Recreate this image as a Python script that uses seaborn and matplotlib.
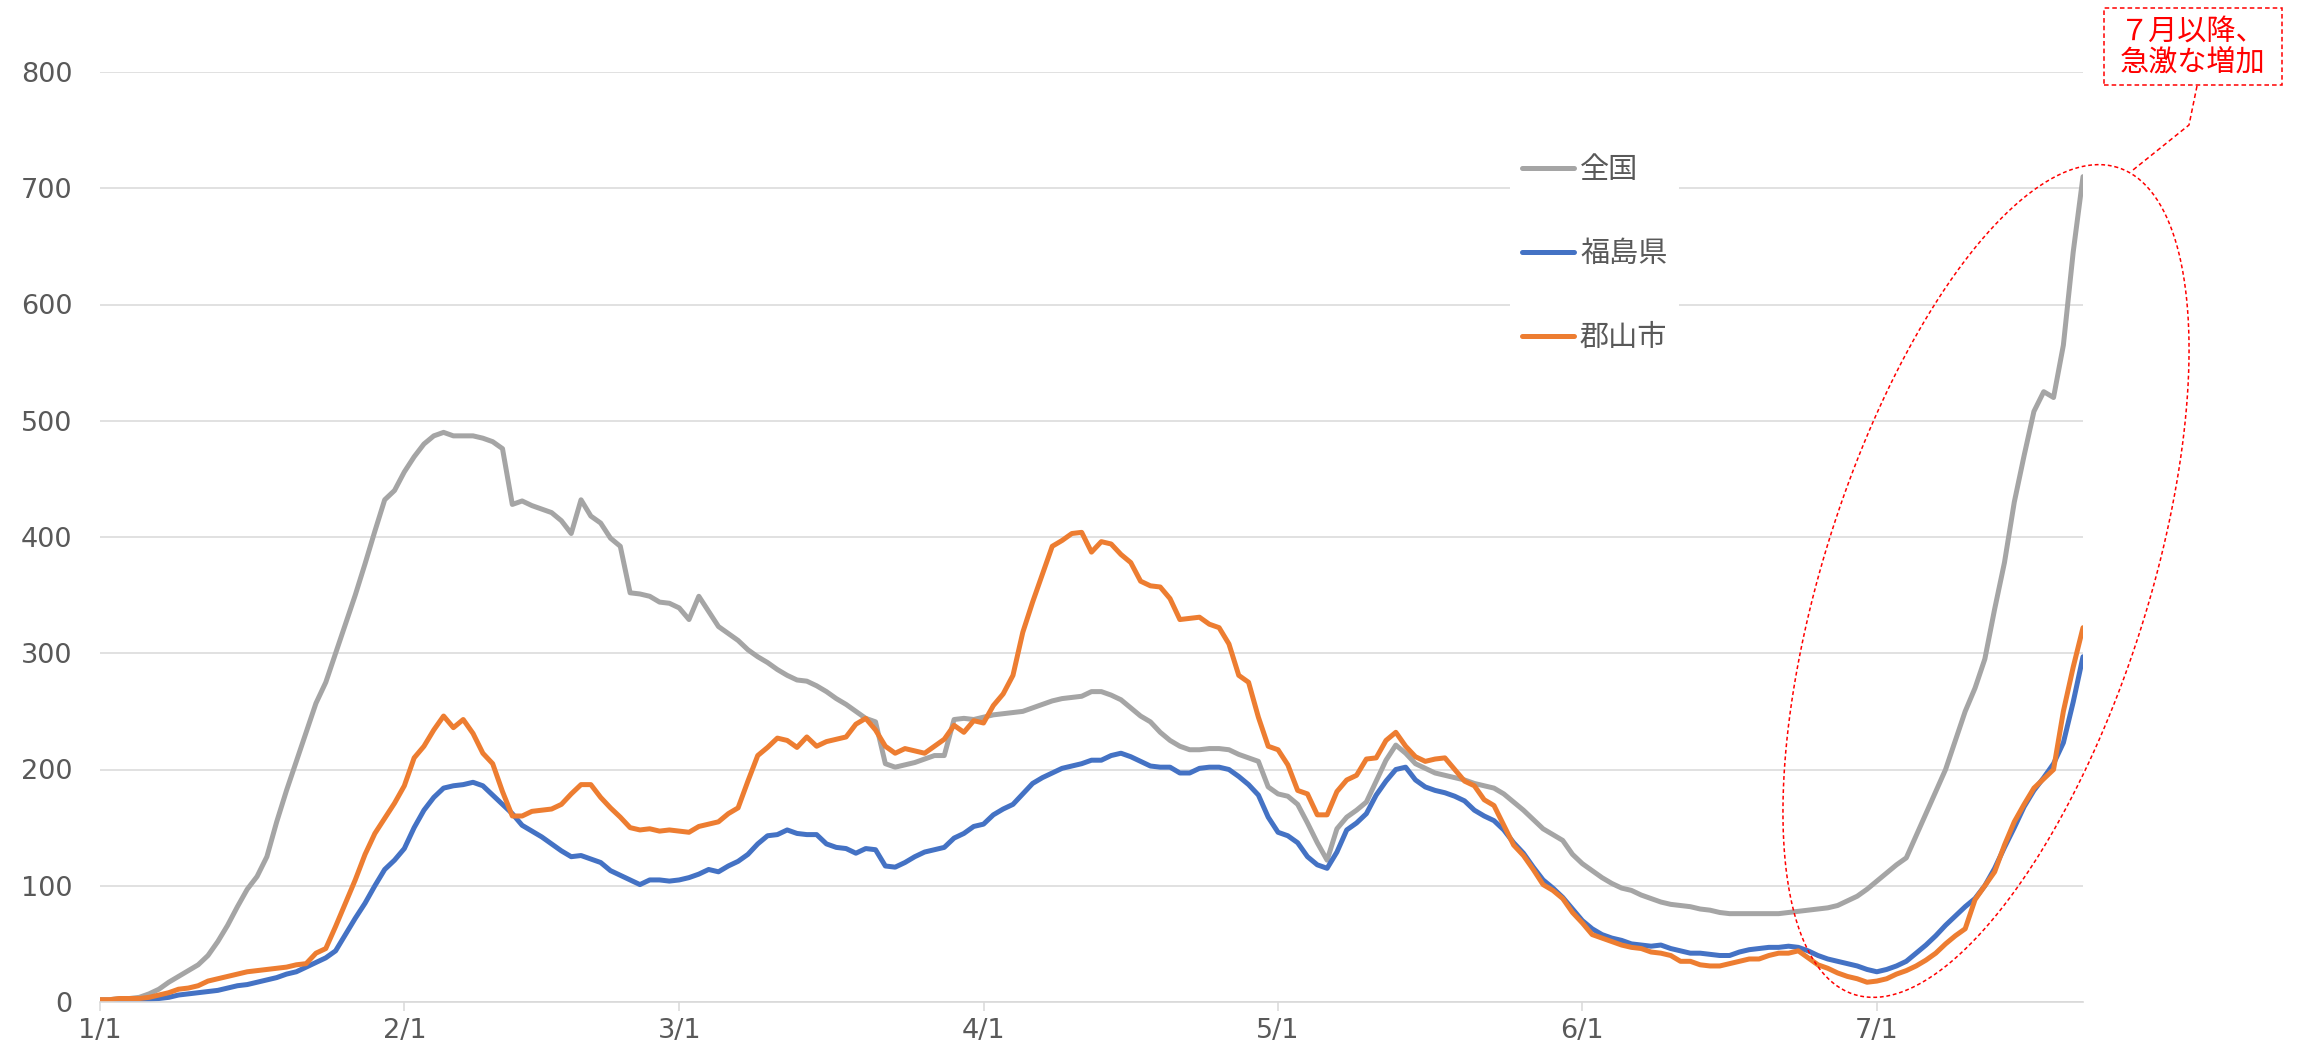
import matplotlib.pyplot as plt
import numpy as np
import pandas as pd
import seaborn as sns
from matplotlib.lines import Line2D
from matplotlib.patches import Rectangle

# daily values, 1/1 .. 7/22
zenkoku = [
    2, 2, 3, 3, 4, 7, 11, 17, 22, 27,
    32, 40, 52, 66, 82, 97, 108, 125, 155, 182,
    207, 232, 257, 275, 300, 325, 350, 377, 405, 432,
    440, 456, 469, 480, 487, 490, 487, 487, 487, 485,
    482, 476, 428, 431, 427, 424, 421, 414, 403, 432,
    418, 412, 399, 392, 352, 351, 349, 344, 343, 339,
    329, 349, 336, 323, 317, 311, 303, 297, 292, 286,
    281, 277, 276, 272, 267, 261, 256, 250, 244, 241,
    205, 202, 204, 206, 209, 212, 212, 243, 244, 243,
    245, 247, 248, 249, 250, 253, 256, 259, 261, 262,
    263, 267, 267, 264, 260, 253, 246, 241, 232, 225,
    220, 217, 217, 218, 218, 217, 213, 210, 207, 185,
    179, 177, 170, 154, 137, 122, 149, 159, 165, 172,
    190, 208, 221, 214, 205, 201, 197, 195, 193, 191,
    188, 186, 184, 179, 172, 165, 157, 149, 144, 139,
    127, 119, 113, 107, 102, 98, 96, 92, 89, 86,
    84, 83, 82, 80, 79, 77, 76, 76, 76, 76,
    76, 76, 77, 78, 79, 80, 81, 83, 87, 91,
    97, 104, 111, 118, 124, 143, 162, 181, 200, 225,
    250, 270, 295, 338, 378, 430, 470, 508, 525, 520,
    565, 645, 710,
]
fukushima = [
    1, 1, 1, 1, 2, 2, 3, 4, 6, 7,
    8, 9, 10, 12, 14, 15, 17, 19, 21, 24,
    26, 30, 34, 38, 44, 58, 72, 85, 100, 114,
    122, 132, 150, 165, 176, 184, 186, 187, 189, 186,
    178, 170, 162, 152, 147, 142, 136, 130, 125, 126,
    123, 120, 113, 109, 105, 101, 105, 105, 104, 105,
    107, 110, 114, 112, 117, 121, 127, 136, 143, 144,
    148, 145, 144, 144, 136, 133, 132, 128, 132, 131,
    117, 116, 120, 125, 129, 131, 133, 141, 145, 151,
    153, 161, 166, 170, 179, 188, 193, 197, 201, 203,
    205, 208, 208, 212, 214, 211, 207, 203, 202, 202,
    197, 197, 201, 202, 202, 200, 194, 187, 178, 159,
    146, 143, 137, 125, 118, 115, 129, 148, 154, 162,
    178, 190, 200, 202, 191, 185, 182, 180, 177, 173,
    165, 160, 156, 148, 137, 128, 116, 105, 98, 90,
    80, 70, 63, 58, 55, 53, 50, 49, 48, 49,
    46, 44, 42, 42, 41, 40, 40, 43, 45, 46,
    47, 47, 48, 47, 44, 40, 37, 35, 33, 31,
    28, 26, 28, 31, 35, 42, 49, 57, 66, 74,
    82, 89, 100, 115, 133, 150, 168, 182, 193, 205,
    223, 258, 297,
]
koriyama = [
    2, 2, 3, 3, 3, 4, 6, 8, 11, 12,
    14, 18, 20, 22, 24, 26, 27, 28, 29, 30,
    32, 33, 42, 46, 65, 85, 105, 127, 145, 158,
    171, 186, 210, 220, 234, 246, 236, 243, 231, 214,
    205, 181, 160, 160, 164, 165, 166, 170, 179, 187,
    187, 176, 167, 159, 150, 148, 149, 147, 148, 147,
    146, 151, 153, 155, 162, 167, 190, 212, 219, 227,
    225, 219, 228, 220, 224, 226, 228, 239, 244, 234,
    220, 214, 218, 216, 214, 220, 226, 238, 232, 242,
    240, 255, 265, 281, 318, 344, 368, 392, 397, 403,
    404, 387, 396, 394, 385, 378, 362, 358, 357, 347,
    329, 330, 331, 325, 322, 308, 281, 275, 245, 220,
    217, 204, 182, 179, 161, 161, 181, 191, 195, 209,
    210, 225, 232, 220, 211, 207, 209, 210, 200, 190,
    186, 174, 169, 152, 135, 126, 114, 101, 96, 89,
    77, 68, 58, 55, 52, 49, 47, 46, 43, 42,
    40, 35, 35, 32, 31, 31, 33, 35, 37, 37,
    40, 42, 42, 44, 38, 32, 29, 25, 22, 20,
    17, 18, 20, 24, 27, 31, 36, 42, 50, 57,
    63, 88, 100, 112, 135, 155, 170, 184, 192, 200,
    250, 288, 322,
]

series_names = ['全国', '福島県', '郡山市']
series_colors = ['#A5A5A5', '#4472C4', '#ED7D31']
month_days = [0, 31, 59, 90, 120, 151, 181]
month_labels = ['1/1', '2/1', '3/1', '4/1', '5/1', '6/1', '7/1']
y_ticks = [0, 100, 200, 300, 400, 500, 600, 700, 800]
note_text = '７月以降、\n急激な増加'

days = np.arange(len(zenkoku))
df = pd.DataFrame({
    'day': np.tile(days, 3),
    'value': zenkoku + fukushima + koriyama,
    'area': np.repeat(series_names, len(days)),
})

sns.set_theme(style='white')
plt.rcParams['font.family'] = ['Noto Sans CJK JP', 'DejaVu Sans']

W, H = 2315, 1049
fig = plt.figure(figsize=(W / 100, H / 100), dpi=100)
ax = fig.add_axes([100 / W, 1 - 1002 / H, 1983 / W, 930 / H])

sns.lineplot(data=df, x='day', y='value', hue='area', hue_order=series_names,
             palette=series_colors, linewidth=3.6, ax=ax,
             solid_joinstyle='round', solid_capstyle='round')

ax.set_xlim(0, days[-1])
ax.set_ylim(0, 800)
ax.set_xticks(month_days)
ax.set_xticklabels(month_labels)
ax.set_yticks(y_ticks)
ax.set_xlabel('')
ax.set_ylabel('')
ax.grid(axis='y', color='#D9D9D9', linewidth=1.1)
ax.set_axisbelow(True)
for side in ['left', 'right', 'top']:
    ax.spines[side].set_visible(False)
ax.spines['bottom'].set_color('#D9D9D9')
ax.spines['bottom'].set_linewidth(1.2)
ax.tick_params(axis='y', length=0, pad=20, labelsize=19.5, labelcolor='#595959')
ax.tick_params(axis='x', length=6.5, width=1.1, color='#D9D9D9', direction='out',
               pad=5, labelsize=19.5, labelcolor='#595959', bottom=True)
for lab in ax.get_xticklabels() + ax.get_yticklabels():
    lab.set_fontfamily('DejaVu Sans')

handles, labels = ax.get_legend_handles_labels()
leg = ax.legend(handles, labels, loc='center left',
                bbox_to_anchor=((1510 - 100) / 1983, (1002 - 254) / 930),
                borderaxespad=0, borderpad=0.4, frameon=True, framealpha=1,
                facecolor='white', edgecolor='none', fontsize=21,
                handlelength=1.8, handletextpad=0.2, labelspacing=1.85)
for t in leg.get_texts():
    t.set_color('#595959')
for h in leg.get_lines():
    h.set_linewidth(3.6)


def fpos(x, y):
    return x / W, 1 - y / H


red = '#FF0000'
bx0, by0 = fpos(2104, 85)
bx1, by1 = fpos(2282, 8)
fig.patches.append(Rectangle((bx0, by0), bx1 - bx0, by1 - by0, transform=fig.transFigure,
                             fill=False, edgecolor=red, linewidth=1.1,
                             linestyle=(0, (3, 2))))
tx, ty = fpos(2193, 47)
fig.text(tx, ty, note_text, color=red, fontsize=21, ha='center', va='center',
         multialignment='center', linespacing=1.05)

cx, cy = fpos(2197, 86)
mx, my = fpos(2189, 125)
ex, ey = fpos(2133, 170)
fig.lines.append(Line2D([cx, mx, ex], [cy, my, ey], transform=fig.transFigure,
                        color=red, linewidth=1.1, linestyle=(0, (3, 2))))

# tilted ellipse around the July rise, in pixel units
t = np.linspace(0, 2 * np.pi, 400)
A, B, th = 434, 162, np.deg2rad(72.3)
ox, oy = 1986, H - 581
px = ox + A * np.cos(t) * np.cos(th) - B * np.sin(t) * np.sin(th)
py = oy + A * np.cos(t) * np.sin(th) + B * np.sin(t) * np.cos(th)
fig.lines.append(Line2D(px / W, py / H, transform=fig.transFigure, color=red,
                        linewidth=1.1, linestyle=(0, (2.5, 1.8))))

fig.savefig('out.png', dpi=100, facecolor='white')
